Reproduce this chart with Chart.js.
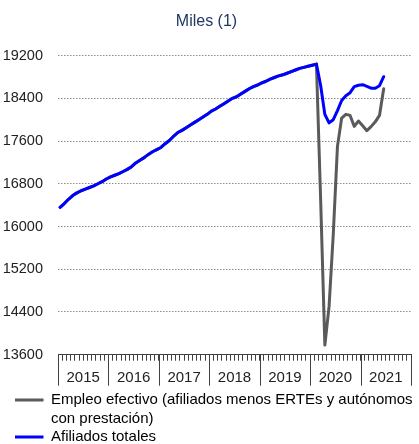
<!DOCTYPE html>
<html>
<head>
<meta charset="utf-8">
<script src="https://cdn.jsdelivr.net/npm/chart.js@4"></script>
<style>
html,body{margin:0;padding:0;background:#ffffff;}
#wrap{width:419px;height:444px;}
</style>
</head>
<body>
<div id="wrap"><canvas id="c" width="419" height="444"></canvas></div>
<script>
// ---- data ----
const chartTitle = 'Miles (1)';
const years = ['2015', '2016', '2017', '2018', '2019', '2020', '2021'];
const monthsPerYear = 12;
const yMin = 13600, yMax = 19200, yStep = 800;
const legendEmpleoLines = ['Empleo efectivo (afiliados menos ERTEs y autónomos', 'con prestación)'];
const legendAfiliados = 'Afiliados totales';

// Afiliados totales, monthly from Jan 2015 to Jun 2021 (miles)
const afiliadosTotales = [
  16360, 16430, 16510, 16580, 16630, 16670, 16700, 16730, 16760, 16800, 16840, 16890,
  16930, 16960, 16990, 17030, 17070, 17120, 17190, 17240, 17290, 17350, 17400, 17440,
  17480, 17550, 17610, 17690, 17760, 17800, 17850, 17900, 17950, 18000, 18050, 18100,
  18160, 18200, 18250, 18300, 18350, 18400, 18430, 18480, 18530, 18580, 18620, 18650,
  18690, 18720, 18760, 18790, 18820, 18840, 18870, 18900, 18930, 18960, 18980, 19000,
  19020, 19040, 18640, 18100, 17940, 18000, 18170, 18360, 18450, 18505, 18620, 18645,
  18655, 18625, 18590, 18590, 18636, 18805
];
// Empleo efectivo: equal to afiliados until Feb 2020, then from Mar 2020 to Jun 2021
const monthsBeforeCovid = 62;
const empleoEfectivoDesdeMar2020 = [
  16500, 13780, 14500, 15850, 17500, 18030, 18100, 18080, 17875, 17975,
  17885, 17795, 17870, 17960, 18080, 18580
];
const empleoEfectivo = afiliadosTotales.slice(0, monthsBeforeCovid).concat(empleoEfectivoDesdeMar2020);

// ---- build points (month i drawn at the middle of its month slot) ----
const toPoints = arr => arr.map((v, i) => ({x: i + 0.5, y: v}));
const totalMonths = years.length * monthsPerYear;
const FONT = "'Liberation Sans', Arial, sans-serif";
const GRAY = '#5a5a5a', BLUE = '#0000ff';

const yearSeparators = {
  id: 'yearSeparators',
  afterDraw(chart) {
    const xs = chart.scales.x;
    const {ctx, chartArea} = chart;
    ctx.save();
    ctx.strokeStyle = '#404040';
    ctx.lineWidth = 1;
    for (let k = 0; k <= years.length; k++) {
      const px = Math.round(xs.getPixelForValue(k * monthsPerYear)) + 0.5;
      ctx.beginPath();
      ctx.moveTo(px, chartArea.bottom);
      ctx.lineTo(px, chartArea.bottom + 31);
      ctx.stroke();
    }
    ctx.restore();
  }
};

// legend symbol: a 3px line drawn as the dashed outline of a zero-height legend box
const legendLine = color => ({
  fillStyle: 'rgba(0,0,0,0)', strokeStyle: color, lineWidth: 3,
  lineCap: 'butt', lineDash: [28.5, 200], lineDashOffset: 217
});

new Chart(document.getElementById('c'), {
  type: 'line',
  data: {
    datasets: [
      {
        label: legendEmpleoLines.join(' '),
        data: toPoints(empleoEfectivo),
        borderColor: GRAY,
        backgroundColor: GRAY,
        borderWidth: 3,
        pointRadius: 0,
        tension: 0,
        borderJoinStyle: 'round',
        borderCapStyle: 'round',
        order: 1
      },
      {
        label: legendAfiliados,
        data: toPoints(afiliadosTotales),
        borderColor: BLUE,
        backgroundColor: BLUE,
        borderWidth: 3,
        pointRadius: 0,
        tension: 0,
        borderJoinStyle: 'round',
        borderCapStyle: 'round',
        order: 0
      }
    ]
  },
  options: {
    responsive: false,
    animation: false,
    layout: {padding: {left: 0, right: 6, top: 0, bottom: 0}},
    plugins: {
      tooltip: {enabled: false},
      title: {
        display: true,
        text: chartTitle,
        color: '#1f3864',
        font: {family: FONT, size: 16, weight: 'normal'},
        padding: {top: 12, bottom: 24.4}
      },
      legend: {
        position: 'bottom',
        align: 'start',
        maxHeight: 55,
        labels: {
          boxWidth: 40,
          boxHeight: 0,
          padding: 3.5,
          color: '#222222',
          font: {family: FONT, size: 15},
          generateLabels(chart) {
            const ds = chart.data.datasets;
            return [
              Object.assign({text: legendEmpleoLines[0], datasetIndex: 0, hidden: false}, legendLine(ds[0].borderColor)),
              {text: legendEmpleoLines[1] + ' '.repeat(50), datasetIndex: 0, hidden: false,
               fillStyle: 'rgba(0,0,0,0)', strokeStyle: 'rgba(0,0,0,0)', lineWidth: 0},
              Object.assign({text: legendAfiliados, datasetIndex: 1, hidden: false}, legendLine(ds[1].borderColor))
            ];
          }
        }
      }
    },
    scales: {
      x: {
        type: 'linear',
        min: 0,
        max: totalMonths,
        afterFit(s) { s.height = 34.3; },
        grid: {display: true, drawOnChartArea: false, drawTicks: true, tickLength: 6, color: '#404040', lineWidth: 1},
        border: {display: true, color: '#404040', width: 1},
        ticks: {
          stepSize: 1,
          maxTicksLimit: 200,
          autoSkip: false,
          maxRotation: 0,
          minRotation: 0,
          padding: 8,
          color: '#222222',
          font: {family: FONT, size: 15},
          callback(v) {
            const k = (v - monthsPerYear / 2) / monthsPerYear;
            return (Number.isInteger(k) && k >= 0 && k < years.length) ? years[k] : '';
          }
        }
      },
      y: {
        min: yMin,
        max: yMax,
        afterFit(s) { s.width = 58; },
        grid: {color: '#8c8c8c', lineWidth: 1, drawTicks: false},
        border: {display: false, dash: [1.5, 1.5]},
        ticks: {
          stepSize: yStep,
          padding: 15,
          color: '#222222',
          font: {family: FONT, size: 14.5},
          callback: v => String(v)
        }
      }
    }
  },
  plugins: [yearSeparators]
});
</script>
</body>
</html>
